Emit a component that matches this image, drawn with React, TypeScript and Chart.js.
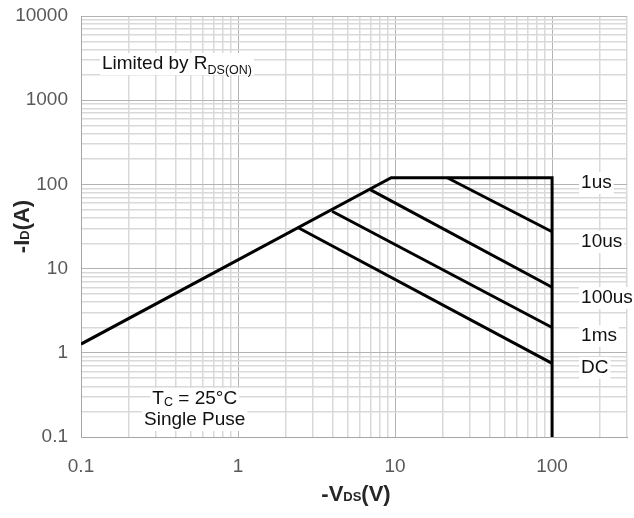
import React, { useEffect, useRef } from "react";
import { Chart, registerables } from "chart.js";

Chart.register(...registerables);

// ---- data ----
const limitV = [0.1, 9.45, 100, 100];
const limitI = [1.27, 120, 120, 0.1];
const us10V = [21.5, 100];
const us10I = [120, 27.4];
const us100V = [6.85, 100];
const us100I = [88, 6.0];
const ms1V = [3.97, 100];
const ms1I = [48, 2.0];
const dcV = [2.42, 100];
const dcI = [30.6, 0.75];

const xTickLabels = [0.1, 1, 10, 100];
const yTickLabels = [0.1, 1, 10, 100, 1000, 10000];
const xMin = 0.1;
const xMax = 300;
const yMin = 0.1;
const yMax = 10000;

const curveLabels = ["1us", "10us", "100us", "1ms", "DC"];
const curveLabelX = [153, 153, 153, 153, 153];
const curveLabelY = [90.6, 18.1, 3.9, 1.38, 0.575];

const FONT = "'Liberation Sans', Arial, sans-serif";

function logTicks(min: number, max: number): number[] {
  const out: number[] = [];
  let exp = Math.floor(Math.log10(min) + 1e-9);
  while (true) {
    for (let s = 1; s <= 9; s++) {
      const v = parseFloat((s * Math.pow(10, exp)).toPrecision(6));
      if (v < min - 1e-12) continue;
      if (v > max + 1e-9) return out;
      out.push(v);
    }
    exp++;
  }
}

function isMajor(v: number): boolean {
  const l = Math.log10(v);
  return Math.abs(l - Math.round(l)) < 1e-6;
}

function toPts(xs: number[], ys: number[]) {
  return xs.map((x, i) => ({ x, y: ys[i] }));
}

function drawMixed(
  ctx: CanvasRenderingContext2D,
  parts: { t: string; font: string; dy: number }[],
  x: number,
  y: number,
  align: "left" | "center",
  bg: boolean
) {
  let total = 0;
  const widths = parts.map((p) => {
    ctx.font = p.font;
    const w = ctx.measureText(p.t).width;
    total += w;
    return w;
  });
  let cx = align === "center" ? x - total / 2 : x;
  if (bg) {
    ctx.fillStyle = "#ffffff";
    ctx.fillRect(cx - 2, y - 16, total + 4, 22);
  }
  ctx.fillStyle = "#111111";
  ctx.textBaseline = "alphabetic";
  ctx.textAlign = "left";
  parts.forEach((p, i) => {
    ctx.font = p.font;
    ctx.fillText(p.t, cx, y + p.dy);
    cx += widths[i];
  });
}

const annotationPlugin = {
  id: "annotationsSOA",
  beforeDatasetsDraw(chart: any) {
    const ctx = chart.ctx as CanvasRenderingContext2D;
    const xs = chart.scales.x;
    const ys = chart.scales.y;
    const big = `19px ${FONT}`;
    const small = `12.5px ${FONT}`;
    ctx.save();
    drawMixed(
      ctx,
      [
        { t: "Limited by R", font: big, dy: 0 },
        { t: "DS(ON)", font: small, dy: 5 },
      ],
      xs.getPixelForValue(0.136),
      ys.getPixelForValue(2345),
      "left",
      true
    );
    drawMixed(
      ctx,
      [
        { t: "T", font: big, dy: 0 },
        { t: "C", font: small, dy: 2 },
        { t: " = 25°C", font: big, dy: 0 },
      ],
      xs.getPixelForValue(0.53),
      ys.getPixelForValue(0.247),
      "center",
      true
    );
    drawMixed(
      ctx,
      [{ t: "Single Puse", font: big, dy: 0 }],
      xs.getPixelForValue(0.53),
      ys.getPixelForValue(0.139),
      "center",
      true
    );
    curveLabels.forEach((lab, i) => {
      drawMixed(
        ctx,
        [{ t: lab, font: big, dy: 0 }],
        xs.getPixelForValue(curveLabelX[i]),
        ys.getPixelForValue(curveLabelY[i]),
        "left",
        true
      );
    });
    ctx.restore();
  },
  afterDraw(chart: any) {
    const ctx = chart.ctx as CanvasRenderingContext2D;
    const area = chart.chartArea;
    ctx.save();
    ctx.fillStyle = "#262626";
    const draw = (parts: { t: string; font: string }[], cx: number, cy: number) => {
      let total = 0;
      const w = parts.map((p) => {
        ctx.font = p.font;
        const m = ctx.measureText(p.t).width;
        total += m;
        return m;
      });
      let x = cx - total / 2;
      ctx.textAlign = "left";
      ctx.textBaseline = "alphabetic";
      parts.forEach((p, i) => {
        ctx.font = p.font;
        ctx.fillText(p.t, x, cy);
        x += w[i];
      });
    };
    const xParts = [
      { t: "-V", font: `bold 22px ${FONT}` },
      { t: "DS", font: `bold 13px ${FONT}` },
      { t: "(V)", font: `bold 22px ${FONT}` },
    ];
    draw(xParts, (area.left + area.right) / 2 + 2, 501);
    ctx.translate(29, (area.top + area.bottom) / 2);
    ctx.rotate(-Math.PI / 2);
    const yParts = [
      { t: "-I", font: `bold 22px ${FONT}` },
      { t: "D", font: `bold 13px ${FONT}` },
      { t: "(A)", font: `bold 22px ${FONT}` },
    ];
    draw(yParts, 0, 0);
    ctx.restore();
  },
};

export default function App() {
  const ref = useRef<HTMLCanvasElement | null>(null);
  useEffect(() => {
    if (!ref.current) return;
    const line = (xs: number[], ys: number[], label: string) => ({
      label,
      data: toPts(xs, ys),
      showLine: true,
      borderColor: "#000000",
      backgroundColor: "#000000",
      borderWidth: 3,
      pointRadius: 0,
      tension: 0,
      fill: false,
      borderJoinStyle: "miter" as const,
    });
    const gridColor = (c: any) =>
      c.tick && isMajor(c.tick.value) ? "#b3b3b3" : "#d9d9d9";
    const gridWidth = (c: any) => (c.tick && isMajor(c.tick.value) ? 1 : 1.5);
    const chart = new Chart(ref.current, {
      type: "scatter",
      data: {
        datasets: [
          line(limitV, limitI, "limit"),
          line(us10V, us10I, "10us"),
          line(us100V, us100I, "100us"),
          line(ms1V, ms1I, "1ms"),
          line(dcV, dcI, "DC"),
        ],
      },
      options: {
        responsive: false,
        animation: false,
        layout: { padding: { top: 16, right: 7, left: 0, bottom: 0 } },
        plugins: {
          legend: { display: false },
          tooltip: { enabled: false },
          title: { display: false },
        },
        scales: {
          x: {
            type: "logarithmic",
            min: xMin,
            max: xMax,
            afterBuildTicks: (s: any) => {
              s.ticks = logTicks(xMin, xMax).map((v) => ({ value: v }));
            },
            afterFit: (s: any) => {
              s.height = 81;
              s.paddingLeft = 0;
              s.paddingRight = 0;
            },
            grid: { color: gridColor, lineWidth: gridWidth, drawTicks: false },
            border: { color: "#a6a6a6", width: 1 },
            ticks: {
              autoSkip: false,
              maxRotation: 0,
              padding: 18,
              color: "#595959",
              font: { family: FONT, size: 19 },
              callback: (v: any) =>
                xTickLabels.some((t) => Math.abs(t - Number(v)) < 1e-9) ? String(v) : "",
            },
          },
          y: {
            type: "logarithmic",
            min: yMin,
            max: yMax,
            afterBuildTicks: (s: any) => {
              s.ticks = logTicks(yMin, yMax).map((v) => ({ value: v }));
            },
            afterFit: (s: any) => {
              s.width = 81;
              s.paddingTop = 0;
              s.paddingBottom = 0;
            },
            grid: { color: gridColor, lineWidth: gridWidth, drawTicks: false },
            border: { color: "#a6a6a6", width: 1 },
            ticks: {
              autoSkip: false,
              padding: 13,
              color: "#595959",
              font: { family: FONT, size: 19 },
              callback: (v: any) =>
                yTickLabels.some((t) => Math.abs(t - Number(v)) < 1e-9) ? String(v) : "",
            },
          },
        },
      },
      plugins: [annotationPlugin],
    } as any);
    return () => chart.destroy();
  }, []);
  return (
    <div style={{ position: "absolute", left: 0, top: 0, width: 634, height: 518, background: "#fff" }}>
      <canvas ref={ref} width={634} height={518} style={{ width: 634, height: 518 }} />
    </div>
  );
}
